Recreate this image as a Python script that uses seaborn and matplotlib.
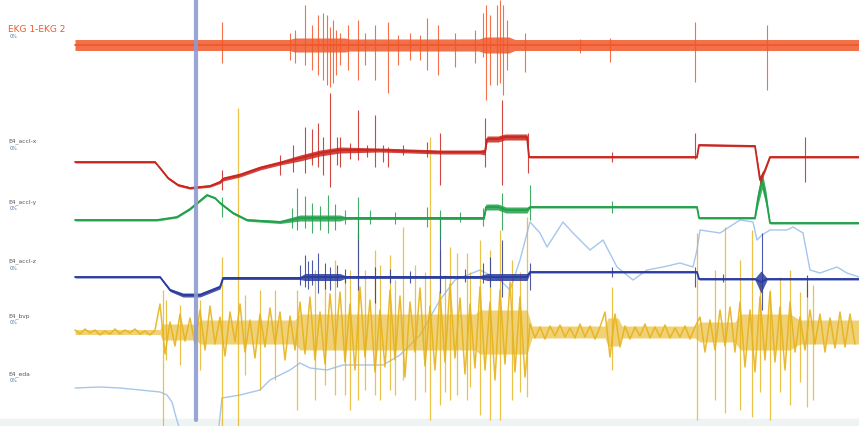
import matplotlib
matplotlib.use("Agg")
import matplotlib.pyplot as plt
import numpy as np
import seaborn as sns

# time axis in seconds, trace values as deviation from each lane baseline (up = positive)

# EKG 1-EKG 2
ekg_t = [0, 107, 110, 135, 137, 202, 205, 217, 220, 392]
ekg_level = [0, 0, 0, 0, 0, 0, 0, 0, 0, 0]
ekg_amp = [5.5, 5.5, 7, 7, 6, 6, 8, 8, 5.5, 5.5]
ekg_spike_t = [73.5, 107.5, 110, 115, 118.5, 121.5, 124, 126, 127.5, 129, 130.5, 132.5, 136.5,
               141.5, 145, 150, 156.5, 161.5, 167.5, 172.5, 176, 181.5, 190, 200, 204, 205.5,
               207.5, 211, 212.5, 214, 216, 225, 252.5, 267.5, 310, 346]
ekg_spike_hi = [23, 12, 15, 40, 20, 30, 32, 30, 18, 25, 15, 12, 20,
                25, 12, 20, 23, 10, 12, 10, 27, 20, 12, 15, 32, 40,
                30, 40, 45, 40, 25, 12, 6, 7, 23, 20]
ekg_spike_lo = [-18, -15, -18, -20, -25, -30, -35, -40, -42, -38, -30, -20, -25,
                -35, -20, -35, -48, -20, -15, -15, -25, -30, -22, -18, -12, -55,
                -40, -40, -38, -50, -25, -27, -8, -17, -37, -45]

# E4_accl-x
ax_t = [0, 40, 42.5, 46.5, 51.5, 57.5, 67.5, 72.5, 74, 82.5, 92.5, 102.5, 112.5, 122.5, 132.5, 152.5,
        182.5, 202.5, 205, 206, 211.5, 215, 226, 227, 311, 312, 340, 342.5, 345, 347.5, 392]
ax_level = [-5, -5, -11, -21, -28, -31, -29, -25, -22, -18, -11, -6, -1, 4, 7, 7,
            5, 5, 5, 18, 18, 20, 20, 0, 0, 12, 11, -23, -13, 0, 0]
ax_amp = [1, 1, 1.2, 1.2, 1.2, 1.2, 1.2, 1.5, 2, 2, 2, 2, 3, 3, 3, 2,
          2, 2, 3, 3, 3, 3, 3, 1, 1, 1, 1, 4, 2, 1, 1]
ax_spike_t = [73.5, 102.5, 109, 115, 118.5, 121.5, 124, 127.5, 131, 132.5, 137.5, 141.5, 146,
              150, 154, 156.5, 164, 176, 182.5, 205, 213.5, 226.5, 268.5, 310, 365]
ax_spike_hi = [-13, 2, 12, 30, 28, 34, 20, 64, 20, 20, 14, 47, 12,
               42, 12, 10, 12, 15, 24, 39, 57, 24, 5, 24, 20]
ax_spike_lo = [-33, -18, -15, -16, -8, -10, -18, -30, -8, -10, -2, -3, 0,
               -10, -5, -10, 2, 0, -28, -10, -28, -16, -5, -2, -25]

# E4_accl-y
ay_t = [0, 41, 51, 57.5, 66, 70, 72.5, 79, 86, 102.5, 112.5, 132.5, 135, 202.5, 204.5, 205.5,
        211.5, 215.5, 226, 227.5, 311, 312, 340, 341.5, 343.5, 345.5, 347.5, 392]
ay_level = [-2, -2, 1, 9, 23, 20, 15, 5, -2, -4, 0, 0, 0, 0, 0, 11,
            11, 8, 8, 11, 11, 0, 0, 20, 38, 20, -5, -5]
ay_amp = [1, 1, 1, 1, 1, 1, 1.2, 1.2, 1.2, 1.5, 3, 3, 1.5, 1.5, 1.5, 3,
          3, 3, 3, 1, 1, 1, 1, 7, 9, 7, 1, 1]
ay_spike_t = [73.5, 108.5, 111, 115, 118.5, 122.5, 126.5, 130, 135, 141.5, 147.5, 160, 176,
              182.5, 192.5, 204, 213.5, 227.5, 268.5]
ay_spike_hi = [21, 10, 30, 22, 15, 12, 23, 14, 8, 21, 8, 6, 11, 8, 6, 10, 25, 33, 17]
ay_spike_lo = [1, -10, -12, -10, -15, -12, -15, -12, -6, -22, -6, -6, -9, -20, -4, -8, -12, -2, 5]

# E4_accl-z
az_t = [0, 42.5, 47.5, 54, 62.5, 72.5, 74, 112.5, 115, 132.5, 135, 202.5, 206, 226, 227.5,
        311, 312, 340, 343, 346, 392]
az_level = [0, 0, -13, -18, -18, -10, -1, -1, 0, 0, 0, 0, 0, 0, 5, 5, -2, -2, -5, -2, -2]
az_amp = [1, 1, 1.5, 2, 2, 2, 1.5, 1.5, 3.5, 3.5, 1.5, 1.5, 3.5, 3.5, 1, 1, 1, 1, 11, 1, 1]
az_spike_t = [112.5, 115, 116.5, 118.5, 121.5, 125, 127.5, 131, 135, 141.5, 150, 157.5, 167.5,
              182.5, 195, 204, 207.5, 213.5, 227.5, 268.5, 310, 324, 343.5, 366]
az_spike_hi = [12, 22, 16, 17, 24, 14, 10, 12, 8, 59, 10, 8, 6,
               60, 8, 14, 20, 37, 14, 10, 10, 3, 44, 2]
az_spike_lo = [-8, -10, -12, -8, -16, -12, -13, -10, -6, -13, -26, -6, -6,
               -16, -5, -6, -10, -20, -13, 0, -10, -5, -33, -20]

# E4_bvp, sampled every 2.5 s
bvp_dt = 2.5
bvp_values = [2, -2, 3, -1, 2, -3, 1, -2, 3, -2, 2, -1, 3, -2, 1, -3, 2,
              28, -22, 10, -14, 18, -9, 14, -12,
              22, -18, 26, -12, 15, -24, 20, -10, 28, -20, 12, -26, 18, -15, 24, -12, 20, -28, 16, -18,
              30, -22, 35, -28, 20, -32, 38, -18,
              40, -30, 28, -38, 45, -25, 32, -40, 22, -35, 42, -28, 36, -45, 30, -20, 44, -34, 26, -38,
              40, -30, 48, -26, 34, -42, 28, -36,
              45, -38, 30, -48, 42, -32, 50, -40, 35, -45,
              8, -6, 5, -7, 6, -4, 7, -5, 4, -6, 8, -5, 6, -7, 5,
              20, -25, 18, -15,
              6, -7, 5, -4, 8, -6, 5, -5, 7, -6, 4, -5, 6, -7, 5,
              15, -20, 12, -18, 22, -14, 25, -20,
              30, -35, 22, -40, 35, -28, 40, -30, 25, -38, 30,
              -20, 15, -18, 22, -12, 18, -20, 14, -16, 20, -15, 18, -12]
# dense core of the bvp trace
bvp_core_t = [0, 42.5, 43.5, 60.5, 62.5, 110, 112.5, 200, 202.5, 226, 228.5, 265, 266.5,
              271.5, 273.5, 310, 312.5, 330, 332.5, 357.5, 362.5, 392]
bvp_core_amp = [2.5, 2.5, 8, 8, 12, 12, 18, 18, 22, 22, 6, 6, 14,
                14, 6, 6, 10, 10, 18, 18, 12, 12]
bvp_spike_t = [44, 45.5, 52.5, 62.5, 73.5, 81.5, 85, 92.5, 100, 111, 120, 125, 130, 135, 137.5,
               141.5, 145, 150, 152.5, 157.5, 160, 164, 170, 175, 177.5, 182.5, 185, 187.5, 191,
               196, 197.5, 202.5, 207.5, 212.5, 218.5, 222.5, 226, 268.5, 311, 320, 325, 332.5,
               338.5, 342.5, 347.5, 352.5, 357.5, 362.5, 366, 369]
bvp_spike_hi = [42, 32, 27, 32, 75, 224, 37, 42, 42, 42, 62, 52, 72, 57, 62,
                99, 62, 82, 67, 77, 52, 105, 67, 60, 195, 82, 57, 85, 79,
                79, 60, 92, 82, 102, 72, 60, 115, 45, 99, 62, 105, 72,
                102, 50, 42, 55, 62, 40, 49, 47]
bvp_spike_lo = [-94, -28, -33, -38, -94, -94, -43, -58, -48, -78, -68, -53, -63, -63, -78,
                -68, -58, -63, -68, -58, -63, -48, -68, -60, -88, -73, -60, -68, -63,
                -68, -55, -83, -88, -88, -68, -60, -65, -38, -88, -68, -81, -78,
                -85, -60, -88, -60, -73, -50, -75, -68]

# E4_eda
eda_t = [0, 12.5, 22.5, 42.5, 46, 48.5, 50.5, 52.5, 55, 71.5, 73.5, 82.5, 92.5, 97.5, 107.5,
         112.5, 117.5, 126, 134, 142.5, 154, 162.5, 172.5, 182.5, 190, 202.5, 212.5, 217.5,
         222.5, 227.5, 232.5, 236, 244, 249, 252.5, 257.5, 264, 271, 279, 286, 294, 302.5,
         309, 311, 312.5, 322.5, 332.5, 339, 341, 343.5, 347.5, 356, 359, 364, 367.5, 372.5,
         381, 386, 392]
eda_level = [2, 3, 2, -2, -5, -12, -27, -40, -45, -45, -8, -5, 0, 10, 20,
             27, 22, 20, 25, 25, 25, 35, 55, 90, 110, 120, 110, 100,
             130, 168, 157, 143, 168, 157, 150, 140, 150, 123, 110, 120, 123, 127,
             123, 140, 160, 157, 170, 168, 150, 155, 160, 160, 163, 157, 120, 117,
             123, 117, 113]

LANES = {"ekg": 45, "ax": 157, "ay": 218, "az": 277, "bvp": 332, "eda": 390}
COLORS = {"ekg": "#f0582a", "ax": "#c8261e", "ay": "#22a04a", "az": "#2b3c9e",
          "bvp": "#e6b31c", "eda": "#a6c6ec"}
LABELS = [("ekg", "EKG 1-EKG 2"), ("ax", "E4_accl-x"), ("ay", "E4_accl-y"),
          ("az", "E4_accl-z"), ("bvp", "E4_bvp"), ("eda", "E4_eda")]
cursor_t = 60.5

sns.set_theme(style="white")
fig = plt.figure(figsize=(8.59, 4.26), dpi=100)
ax = fig.add_axes([0, 0, 1, 1])
ax.set_xlim(-37.5, 392)
ax.set_ylim(-426, 0)
ax.axis("off")


def lane(key, t, level, amp, st, hi, lo, z=3):
    base = LANES[key]
    c = COLORS[key]
    y = [v - base for v in level]
    ax.fill_between(t, [v - a for v, a in zip(y, amp)], [v + a for v, a in zip(y, amp)],
                    color=c, alpha=0.85, lw=0, zorder=z)
    sns.lineplot(x=t, y=y, ax=ax, color=c, lw=1.3, zorder=z, estimator=None, sort=False)
    ax.vlines(st, [v - base for v in lo], [v - base for v in hi], color=c, lw=0.8,
              alpha=0.85, zorder=z)


# bottom toolbar strip
ax.axhspan(-426, -419, color="#eef3f3", zorder=0)

# eda
sns.lineplot(x=eda_t, y=[v - LANES["eda"] for v in eda_level], ax=ax, color=COLORS["eda"],
             lw=1.0, zorder=1, estimator=None, sort=False)

# bvp
base = LANES["bvp"]
ax.fill_between(bvp_core_t, [-a - base for a in bvp_core_amp], [a - base for a in bvp_core_amp],
                color=COLORS["bvp"], alpha=0.6, lw=0, zorder=1.4)
bvp_t = np.arange(len(bvp_values)) * bvp_dt
sns.lineplot(x=bvp_t, y=[v - base for v in bvp_values], ax=ax, color=COLORS["bvp"],
             lw=1.1, alpha=0.9, zorder=1.5, estimator=None, sort=False)
ax.vlines(bvp_spike_t, [v - base for v in bvp_spike_lo], [v - base for v in bvp_spike_hi],
          color=COLORS["bvp"], lw=0.9, alpha=0.8, zorder=1.5)

lane("az", az_t, az_level, az_amp, az_spike_t, az_spike_hi, az_spike_lo)
lane("ay", ay_t, ay_level, ay_amp, ay_spike_t, ay_spike_hi, ay_spike_lo)
lane("ax", ax_t, ax_level, ax_amp, ax_spike_t, ax_spike_hi, ax_spike_lo)
lane("ekg", ekg_t, ekg_level, ekg_amp, ekg_spike_t, ekg_spike_hi, ekg_spike_lo)

ax.axvline(cursor_t, ymin=0.015, color="#8d9bd1", lw=3, alpha=0.9, zorder=5)

for key, name in LABELS:
    y0 = -LANES[key] + 16
    if key == "ekg":
        ax.text(-33.5, y0, name, color=COLORS["ekg"], fontsize=6.5, va="center")
        ax.text(-32.5, y0 - 8, "0%", color="#4a68b0", fontsize=3.5, va="center")
    else:
        ax.text(-33.5, y0, name, color="#555555", fontsize=4.3, va="center")
        ax.text(-32.5, y0 - 7, "0%", color="#4a68b0", fontsize=3.5, va="center")

fig.savefig("out.png", dpi=100)
